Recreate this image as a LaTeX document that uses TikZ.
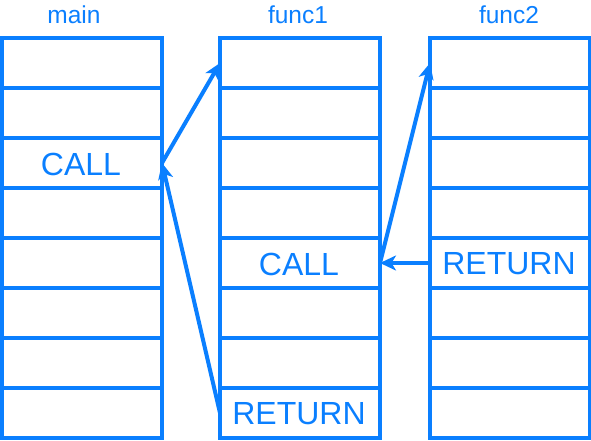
\documentclass[tikz,border=0pt]{standalone}
\usepackage{fontspec}
\setmainfont{Liberation Sans}
\usetikzlibrary{arrows.meta}
\definecolor{blu}{HTML}{0A7FFF}
\tikzset{
  cell/.style={draw=blu, line width=3.4pt, minimum width=160pt, minimum height=50pt, inner sep=0pt, outer sep=0pt, anchor=center},
  lbl/.style={text=blu, font=\fontsize{32}{38}\selectfont, inner sep=0pt},
  head/.style={text=blu, font=\fontsize{24.5}{28}\selectfont, inner sep=0pt},
  link/.style={draw=blu, line width=4pt, -{Stealth[length=16pt,width=15pt,inset=4.5pt]}}
}
\begin{document}
\begin{tikzpicture}[x=1pt,y=-1pt]
\useasboundingbox (0,0) rectangle (591,441);
\foreach \c/\cx in {m/82, a/300, b/510}{
  \foreach \r in {1,...,8}{
    \node[cell] (\c\r) at (\cx,{13+50*\r}) {};
  }
}
\node[head] (hm) at (74,15) {main};
\node[head] (ha) at (298,15) {func1};
\node[head] (hb) at (509,15) {func2};
\node[lbl] (tm3) at (81,164) {CALL};
\node[lbl] (ta5) at (299,264) {CALL};
\node[lbl] (ta8) at (299,414) {RETURN};
\node[lbl] (tb5) at (509,264) {RETURN};
\draw[link] (m3.east) -- (a1.west);
\draw[link] (a8.west) -- (m3.east);
\draw[link] (a5.east) -- (b1.west);
\draw[link] (b5.west) -- (a5.east);
\end{tikzpicture}
\end{document}
